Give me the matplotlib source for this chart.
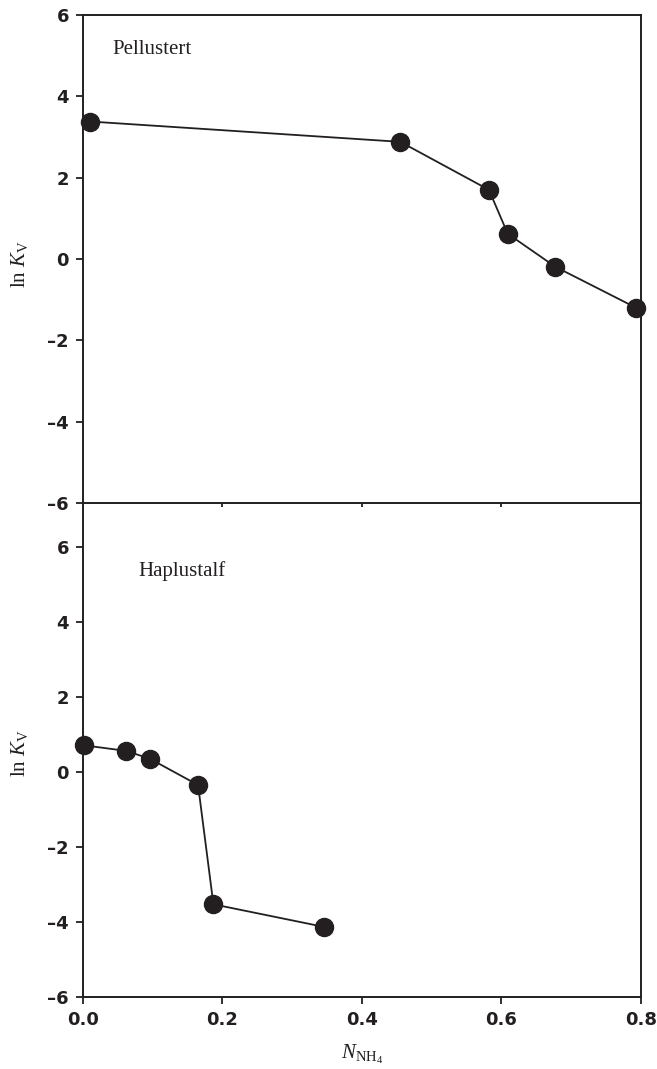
import matplotlib
matplotlib.use("Agg")
import matplotlib.pyplot as plt

# data
pell_x = [0.01, 0.455, 0.582, 0.609, 0.677, 0.793]
pell_y = [3.38, 2.88, 1.70, 0.62, -0.19, -1.20]
hapl_x = [0.001, 0.062, 0.096, 0.165, 0.187, 0.345]
hapl_y = [0.71, 0.56, 0.35, -0.35, -3.53, -4.13]

xticks = [0.0, 0.2, 0.4, 0.6, 0.8]
xticklabels = ["0.0", "0.2", "0.4", "0.6", "0.8"]
yticks = [-6, -4, -2, 0, 2, 4, 6]
yticklabels = ["\u20136", "\u20134", "\u20132", "0", "2", "4", "6"]

ink = "#231f20"
plt.rcParams["mathtext.fontset"] = "custom"
plt.rcParams["mathtext.rm"] = "Liberation Serif"
plt.rcParams["mathtext.it"] = "Liberation Serif:italic"
plt.rcParams["axes.edgecolor"] = ink
plt.rcParams["xtick.color"] = ink
plt.rcParams["ytick.color"] = ink

fig = plt.figure(figsize=(6.57, 10.69), dpi=100)
ax1 = fig.add_axes([0.1263, 0.5295, 0.8493, 0.4565])
ax2 = fig.add_axes([0.1263, 0.0674, 0.8493, 0.4621])
ax2.set_facecolor("none")  # keep the shared border and ticks of ax1 visible

for ax, x, y, name, nx, ny, ytop in [(ax1, pell_x, pell_y, "Pellustert", 0.042, 5.15, 6),
                                     (ax2, hapl_x, hapl_y, "Haplustalf", 0.079, 5.36, 7.17)]:
    ax.plot(x, y, "-", color=ink, lw=1.3, marker="o", ms=13,
            mfc=ink, mec=ink, clip_on=False, zorder=3)
    ax.set_xlim(0, 0.8)
    ax.set_ylim(-6, ytop)
    ax.set_yticks(yticks)
    ax.set_yticklabels(yticklabels, fontsize=13, fontweight="bold",
                       family="DejaVu Sans", color=ink)
    ax.tick_params(axis="y", direction="out", length=5, width=1.3, pad=5)
    for s in ax.spines.values():
        s.set_linewidth(1.4)
    ax.text(nx, ny, name, fontsize=15, family="Liberation Serif",
            color=ink, ha="left", va="center")
    ax.set_ylabel("ln $K_{\\mathrm{V}}$", fontsize=15, family="Liberation Serif",
                  color=ink)

ax1.yaxis.set_label_coords(-0.095, 0.49)
ax2.yaxis.set_label_coords(-0.095, 0.494)

ax1.set_xticks([0.2, 0.4, 0.6])
ax1.set_xticklabels([])
ax1.tick_params(axis="x", direction="out", length=3, width=1.3)

ax2.spines["top"].set_visible(False)
ax2.set_xticks(xticks)
ax2.set_xticklabels(xticklabels, fontsize=13, fontweight="bold",
                    family="DejaVu Sans", color=ink)
ax2.tick_params(axis="x", direction="out", length=5, width=1.3, pad=5)
ax2.set_xlabel("$N_{\\mathrm{NH}_4}$", fontsize=15, color=ink, labelpad=10)

fig.savefig("out.png", dpi=100)
